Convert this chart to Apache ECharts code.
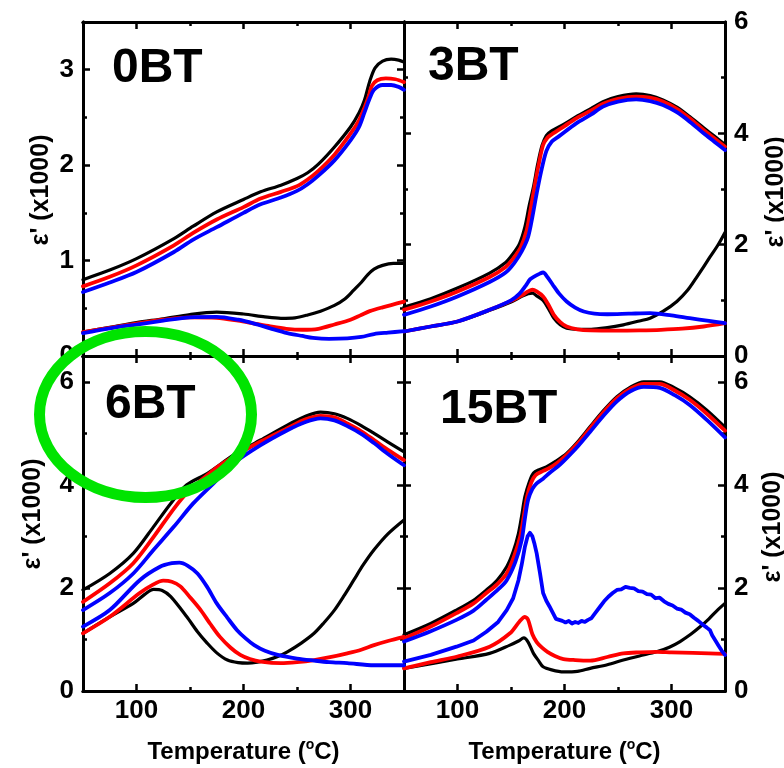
<!DOCTYPE html>
<html>
<head>
<meta charset="utf-8">
<script src="https://cdn.jsdelivr.net/npm/echarts@6/dist/echarts.min.js"></script>
<style>
  html, body { margin: 0; padding: 0; background: #ffffff; }
  #chart { width: 784px; height: 768px; }
</style>
</head>
<body>
<div id="chart"></div>
<script>
// Temperature axis (°C) shared by all four panels
const tempRange = [50, 350];
const tempMajorTicks = [100, 200, 300];
const tempMinorTicks = [150, 250];

// Permittivity axes, in units of 1000
const yRange0BT = [0, 3.5];
const yMajor0BT = [0, 1, 2, 3];
const yMinor0BT = [0.5, 1.5, 2.5];
const yRangeOther = [0, 6];
const yRangeBottom = [0, 6.5];
const yMajorOther = [0, 2, 4, 6];
const yMinorOther = [1, 3, 5];

const panelNames = ['0BT', '3BT', '6BT', '15BT'];

// ---- 0BT: [temperature, ε'/1000] ----
const bt0BlackHigh = [[50,0.80],[75,0.90],[100,1.02],[135,1.23],[153,1.36],[175,1.51],[200,1.64],[216,1.72],[235,1.79],[250,1.86],[260,1.92],[270,2.01],[285,2.19],[300,2.40],[308,2.55],[313,2.68],[318,2.88],[323,3.02],[330,3.09],[338,3.11],[345,3.10],[350,3.08]];
const bt0RedHigh = [[50,0.73],[75,0.83],[100,0.95],[135,1.16],[153,1.29],[175,1.43],[200,1.56],[216,1.65],[235,1.72],[250,1.78],[260,1.85],[270,1.94],[285,2.11],[300,2.33],[308,2.47],[313,2.60],[317,2.72],[320,2.83],[325,2.89],[333,2.91],[342,2.90],[350,2.87]];
const bt0BlueHigh = [[50,0.67],[75,0.77],[100,0.88],[135,1.09],[153,1.22],[175,1.35],[200,1.50],[216,1.59],[235,1.66],[250,1.73],[260,1.80],[270,1.89],[285,2.05],[300,2.26],[308,2.40],[313,2.55],[318,2.70],[322,2.79],[330,2.84],[338,2.84],[345,2.82],[350,2.79]];
const bt0BlackLow = [[50,0.25],[75,0.30],[100,0.35],[125,0.39],[150,0.435],[175,0.46],[200,0.44],[220,0.41],[235,0.395],[248,0.40],[260,0.43],[272,0.47],[285,0.53],[295,0.60],[303,0.69],[310,0.77],[316,0.85],[322,0.91],[330,0.95],[340,0.97],[350,0.97]];
const bt0RedLow = [[50,0.25],[75,0.295],[100,0.34],[125,0.38],[150,0.405],[175,0.40],[195,0.37],[210,0.34],[225,0.31],[240,0.285],[255,0.275],[270,0.285],[285,0.33],[300,0.38],[310,0.43],[318,0.47],[330,0.51],[350,0.57]];
const bt0BlueLow = [[50,0.24],[75,0.29],[100,0.33],[125,0.37],[150,0.405],[175,0.41],[195,0.38],[210,0.34],[225,0.29],[241,0.24],[255,0.21],[265,0.19],[280,0.18],[297,0.185],[310,0.20],[322,0.23],[335,0.245],[350,0.26]];

// ---- 3BT ----
const bt3BlackHigh = [[50,0.88],[75,1.03],[100,1.22],[130,1.49],[145,1.68],[152,1.84],[158,2.02],[163,2.32],[167,2.70],[171,3.04],[175,3.45],[179,3.78],[183,3.96],[187,4.03],[200,4.17],[211,4.30],[225,4.45],[236,4.57],[250,4.66],[267,4.71],[280,4.68],[292,4.60],[305,4.47],[317,4.30],[330,4.10],[340,3.95],[350,3.80]];
const bt3RedHigh = [[50,0.83],[75,0.98],[100,1.16],[130,1.42],[145,1.60],[152,1.75],[159,1.95],[164.7,2.26],[168,2.60],[172,3.04],[176,3.45],[180,3.79],[184,3.92],[188,3.98],[200,4.13],[211,4.27],[225,4.41],[236,4.53],[250,4.62],[267,4.66],[280,4.64],[292,4.57],[305,4.44],[317,4.27],[330,4.06],[340,3.91],[350,3.76]];
const bt3BlueHigh = [[50,0.74],[75,0.89],[100,1.07],[130,1.33],[145,1.50],[153,1.67],[160,1.88],[166,2.14],[170,2.50],[174,2.92],[178,3.30],[183,3.68],[188,3.85],[195,3.95],[211,4.18],[225,4.34],[236,4.48],[250,4.57],[267,4.61],[280,4.58],[292,4.51],[305,4.38],[317,4.21],[330,4.00],[340,3.85],[350,3.70]];
const bt3BlackLow = [[50,0.44],[75,0.53],[100,0.62],[130,0.82],[150,0.97],[160,1.07],[166,1.12],[170,1.13],[174,1.08],[180,1.00],[185,0.85],[190,0.68],[196,0.56],[202,0.50],[212,0.48],[225,0.48],[240,0.51],[255,0.56],[270,0.63],[280,0.68],[292,0.80],[305,0.98],[315,1.18],[323,1.40],[330,1.60],[336,1.78],[343,1.98],[350,2.22]];
const bt3RedLow = [[50,0.44],[75,0.53],[100,0.62],[130,0.83],[150,0.99],[160,1.09],[166,1.16],[170,1.19],[174,1.16],[180,1.07],[185,0.92],[190,0.74],[196,0.61],[202,0.53],[212,0.48],[224,0.46],[250,0.455],[270,0.46],[290,0.47],[310,0.49],[330,0.53],[350,0.59]];
const bt3BlueLow = [[50,0.44],[75,0.53],[100,0.62],[130,0.83],[150,1.00],[158,1.12],[164,1.27],[168,1.38],[172,1.43],[177,1.48],[180,1.50],[184,1.42],[189,1.28],[195,1.12],[202,0.98],[210,0.87],[218,0.80],[228,0.76],[240,0.75],[260,0.76],[280,0.77],[300,0.73],[317,0.68],[335,0.63],[350,0.59]];

// ---- 6BT ----
const bt6BlackHigh = [[50,1.96],[75,2.28],[97,2.67],[116,3.19],[132,3.64],[147,4.00],[166,4.22],[191,4.58],[216,4.87],[241,5.16],[258,5.33],[272,5.41],[285,5.38],[297,5.29],[310,5.15],[322,5.00],[335,4.83],[350,4.64]];
const bt6RedHigh = [[50,1.73],[75,2.09],[97,2.48],[116,2.99],[135,3.54],[147,3.84],[172,4.29],[191,4.55],[216,4.84],[241,5.10],[258,5.27],[272,5.34],[285,5.31],[297,5.19],[310,5.04],[322,4.87],[335,4.68],[350,4.48]];
const bt6BlueHigh = [[50,1.57],[75,1.90],[97,2.28],[116,2.74],[135,3.19],[153,3.64],[172,4.03],[191,4.42],[216,4.77],[241,5.06],[258,5.22],[272,5.29],[285,5.25],[297,5.14],[310,4.99],[322,4.81],[335,4.60],[350,4.38]];
const bt6BlackLow = [[50,1.12],[75,1.44],[97,1.70],[108,1.88],[116,1.97],[124,1.95],[132,1.83],[147,1.44],[157,1.15],[166,0.93],[175,0.74],[185,0.60],[195,0.55],[204,0.54],[213,0.56],[222,0.60],[232,0.67],[241,0.76],[254,0.93],[266,1.12],[275,1.32],[285,1.57],[294,1.85],[303,2.15],[312,2.45],[322,2.74],[335,3.05],[350,3.32]];
const bt6RedLow = [[50,1.12],[75,1.44],[103,1.90],[115,2.06],[125,2.14],[133,2.12],[141,2.03],[150,1.82],[160,1.57],[169,1.30],[178,1.05],[188,0.84],[197,0.70],[206,0.62],[216,0.57],[235,0.54],[250,0.56],[266,0.60],[282,0.66],[297,0.73],[310,0.80],[322,0.89],[335,0.97],[350,1.05]];
const bt6BlueLow = [[50,1.25],[75,1.57],[103,2.15],[122,2.41],[133,2.48],[140,2.49],[148,2.43],[157,2.28],[166,2.02],[175,1.70],[185,1.42],[194,1.18],[202,1.02],[210,0.89],[220,0.78],[232,0.70],[250,0.63],[266,0.59],[280,0.56],[297,0.54],[322,0.50],[350,0.50]];

// ---- 15BT ----
const bt15BlackHigh = [[50,1.09],[75,1.31],[99,1.57],[115,1.76],[127,1.96],[137,2.15],[146,2.41],[152,2.70],[157,3.06],[160,3.40],[163,3.77],[167,4.05],[171,4.23],[177,4.30],[183,4.35],[192,4.46],[202,4.61],[213,4.85],[224,5.13],[236,5.43],[249,5.71],[262,5.90],[274,6.00],[289,6.00],[303,5.88],[317,5.71],[333,5.45],[350,5.12]];
const bt15RedHigh = [[50,1.02],[75,1.25],[99,1.51],[115,1.70],[127,1.90],[137,2.07],[146,2.28],[153,2.62],[158.6,3.00],[162,3.40],[165,3.77],[169,4.05],[173,4.19],[180,4.27],[186,4.33],[194,4.44],[202,4.58],[213,4.82],[224,5.10],[236,5.40],[249,5.68],[262,5.87],[274,5.96],[289,5.96],[303,5.83],[317,5.65],[333,5.38],[350,5.05]];
const bt15BlueHigh = [[50,0.96],[75,1.16],[99,1.38],[115,1.56],[127,1.77],[138,1.97],[146,2.15],[154,2.50],[160,2.93],[163,3.35],[166,3.71],[170,3.92],[174,4.03],[180,4.12],[186,4.23],[194,4.36],[202,4.52],[213,4.76],[224,5.03],[236,5.33],[249,5.62],[262,5.82],[274,5.90],[289,5.88],[303,5.74],[317,5.55],[333,5.26],[350,4.92]];
const bt15BlackLow = [[50,0.44],[100,0.62],[130,0.73],[149,0.89],[157,0.97],[162,1.03],[166,0.95],[171,0.73],[176,0.58],[180,0.47],[188,0.41],[199,0.37],[212,0.38],[224,0.44],[240,0.51],[255,0.60],[270,0.68],[286,0.76],[298,0.85],[308,0.96],[318,1.10],[327,1.25],[335,1.40],[343,1.57],[350,1.70]];
const bt15RedLow = [[50,0.44],[75,0.56],[100,0.67],[130,0.86],[149,1.12],[158,1.35],[163,1.44],[166,1.38],[170,1.10],[174,0.95],[179,0.84],[184,0.76],[191,0.68],[199,0.62],[210,0.60],[224,0.59],[240,0.66],[255,0.73],[270,0.75],[286,0.76],[300,0.75],[320,0.74],[335,0.73],[350,0.72]];
const bt15BlueLow = [[50,0.57],[75,0.70],[99,0.86],[115,0.98],[127,1.15],[138,1.34],[146,1.57],[152,1.80],[157,2.15],[160,2.45],[163,2.80],[165.5,3.00],[167.7,3.07],[170,3.00],[172,2.85],[174,2.67],[177,2.30],[180,1.90],[183,1.75],[186,1.64],[189,1.52],[192,1.40],[195,1.38],[198,1.36],[201,1.33],[204,1.36],[207,1.31],[210,1.34],[213,1.32],[216,1.36],[219,1.34],[222,1.38],[225,1.41],[229,1.52],[233,1.63],[237,1.74],[241,1.83],[245,1.90],[249,1.96],[253,1.97],[257,2.02],[261,2.00],[265,1.99],[269,1.94],[273,1.93],[277,1.88],[281,1.87],[285,1.80],[289,1.81],[293,1.74],[297,1.69],[301,1.66],[305,1.60],[309,1.58],[313,1.52],[317,1.49],[321,1.42],[325,1.36],[329,1.29],[333,1.23],[336,1.18],[338,1.08],[341,0.98],[344,0.88],[347,0.78],[350,0.70]];

const FONT = '"Liberation Sans", Arial, sans-serif';
const INK = '#000000';
const RED = '#ff0000';
const BLUE = '#0000ff';

// Panel layout: 2 x 2 plots sharing their borders
const layout = [
  { left: 83,  top: 22,  width: 321, height: 334 },
  { left: 404, top: 22,  width: 321, height: 334 },
  { left: 83,  top: 356, width: 321, height: 335 },
  { left: 404, top: 356, width: 321, height: 335 }
];

const panels = [
  { yRange: yRange0BT,    yMajor: yMajor0BT,   yMinor: yMinor0BT,   ySide: 'left',  xLabels: false,
    curves: [[bt0BlackHigh, INK], [bt0RedHigh, RED], [bt0BlueHigh, BLUE], [bt0BlackLow, INK], [bt0RedLow, RED], [bt0BlueLow, BLUE]] },
  { yRange: yRangeOther,  yMajor: yMajorOther, yMinor: yMinorOther, ySide: 'right', xLabels: false,
    curves: [[bt3BlackHigh, INK], [bt3RedHigh, RED], [bt3BlueHigh, BLUE], [bt3BlackLow, INK], [bt3RedLow, RED], [bt3BlueLow, BLUE]] },
  { yRange: yRangeBottom, yMajor: yMajorOther, yMinor: yMinorOther, ySide: 'left',  xLabels: true,
    curves: [[bt6BlackHigh, INK], [bt6RedHigh, RED], [bt6BlueHigh, BLUE], [bt6BlackLow, INK], [bt6RedLow, RED], [bt6BlueLow, BLUE]] },
  { yRange: yRangeBottom, yMajor: yMajorOther, yMinor: yMinorOther, ySide: 'right', xLabels: true,
    curves: [[bt15BlackHigh, INK], [bt15RedHigh, RED], [bt15BlueHigh, BLUE], [bt15BlackLow, INK], [bt15RedLow, RED], [bt15BlueLow, BLUE]] }
];

const labelStyle = { color: INK, fontSize: 26, fontWeight: 'bold', fontFamily: FONT };

function xAxisFor(gi, position, ticks, len, withLabels) {
  return {
    type: 'value', gridIndex: gi, position: position,
    min: tempRange[0], max: tempRange[1],
    axisLine: { show: true, onZero: false, lineStyle: { color: INK, width: 3 } },
    axisTick: { show: true, inside: true, length: len, customValues: ticks, lineStyle: { color: INK, width: 2.5 } },
    axisLabel: Object.assign({ show: withLabels, customValues: tempMajorTicks, margin: 7 }, labelStyle),
    splitLine: { show: false },
    name: withLabels ? '{t|Temperature (}{s|o}{t|C)}' : '',
    nameLocation: 'middle', nameGap: 47,
    nameTextStyle: {
      rich: {
        t: { fontSize: 24, fontWeight: 'bold', fontFamily: FONT, color: INK, lineHeight: 28 },
        s: { fontSize: 14, fontWeight: 'bold', fontFamily: FONT, color: INK, lineHeight: 28, verticalAlign: 'top' }
      }
    }
  };
}

function yAxisFor(gi, p, position, ticks, len, withLabels) {
  return {
    type: 'value', gridIndex: gi, position: position,
    min: p.yRange[0], max: p.yRange[1],
    axisLine: { show: true, onZero: false, lineStyle: { color: INK, width: 3 } },
    axisTick: { show: true, inside: true, length: len, customValues: ticks, lineStyle: { color: INK, width: 2.5 } },
    axisLabel: Object.assign({ show: withLabels, customValues: p.yMajor, margin: 9 }, labelStyle),
    splitLine: { show: false }
  };
}

const grid = [], xAxis = [], yAxis = [], series = [];
panels.forEach((p, gi) => {
  grid.push(Object.assign({ containLabel: false }, layout[gi]));
  // bottom, bottom minor, top, top minor
  xAxis.push(xAxisFor(gi, 'bottom', tempMajorTicks, 7, p.xLabels));
  xAxis.push(xAxisFor(gi, 'bottom', tempMinorTicks, 4, false));
  xAxis.push(xAxisFor(gi, 'top', tempMajorTicks, 7, false));
  xAxis.push(xAxisFor(gi, 'top', tempMinorTicks, 4, false));
  // left, left minor, right, right minor
  yAxis.push(yAxisFor(gi, p, 'left', p.yMajor, 7, p.ySide === 'left'));
  yAxis.push(yAxisFor(gi, p, 'left', p.yMinor, 4, false));
  yAxis.push(yAxisFor(gi, p, 'right', p.yMajor, 7, p.ySide === 'right'));
  yAxis.push(yAxisFor(gi, p, 'right', p.yMinor, 4, false));

  p.curves.forEach(([pts, color], ci) => {
    const noisy = pts.length > 40;
    series.push({
      type: 'line',
      name: panelNames[gi] + '-' + ci,
      xAxisIndex: gi * 4, yAxisIndex: gi * 4,
      data: pts,
      showSymbol: false, symbol: 'none',
      smooth: noisy ? false : 0.3,
      lineStyle: { color: color, width: color === INK ? 3.2 : 3.8, join: 'round', cap: 'round' },
      z: color === BLUE ? 4 : (color === RED ? 3 : 2),
      silent: true
    });
  });
});

// panel captions, vertical axis titles and the highlight ring
const captionPos = [[112, 69], [428, 67], [105, 405], [440, 410]];
const graphic = panelNames.map((n, i) => ({
  type: 'text', x: captionPos[i][0], y: captionPos[i][1], z: 50,
  style: { text: n, fill: INK, fontSize: 48, fontWeight: 'bold', fontFamily: FONT, align: 'left', verticalAlign: 'middle' }
}));

const yTitle = "ε' (x1000)";
const yTitlePos = [[41, 190], [776, 192], [33, 514], [773, 527]];
yTitlePos.forEach(([x, y]) => {
  graphic.push({
    type: 'text', x: x, y: y, rotation: Math.PI / 2, z: 50,
    style: { text: yTitle, fill: INK, fontSize: 25, fontWeight: 'bold', fontFamily: FONT, align: 'center', verticalAlign: 'middle' }
  });
});

graphic.push({
  type: 'ellipse', z: 200,
  shape: { cx: 145.5, cy: 414.5, rx: 106, ry: 83 },
  style: { fill: 'none', stroke: '#00e400', lineWidth: 11 }
});

const chart = echarts.init(document.getElementById('chart'), null, { renderer: 'canvas' });
chart.setOption({
  animation: false,
  backgroundColor: '#ffffff',
  grid: grid,
  xAxis: xAxis,
  yAxis: yAxis,
  series: series,
  graphic: graphic
});
</script>
</body>
</html>
